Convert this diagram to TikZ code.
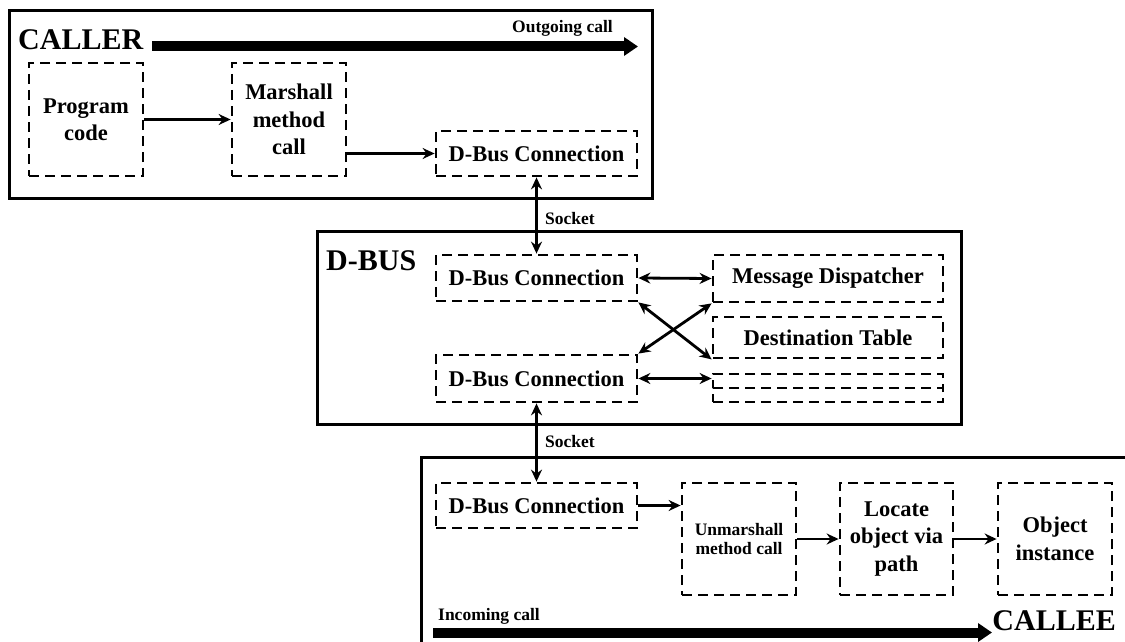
\documentclass[tikz,border=0pt]{standalone}
\usepackage{fontspec}
\setmainfont{Liberation Serif}
\usetikzlibrary{arrows.meta}
\begin{document}
\begin{tikzpicture}[x=1pt,y=-1pt,
  >={Stealth[length=12pt,width=11pt,inset=4pt]},
  box/.style={draw, line width=2.8pt, dash pattern=on 10pt off 6pt, inner sep=0pt, align=center,
    font=\fontsize{22.5}{27.5}\selectfont\bfseries},
  smallbox/.style={box, font=\fontsize{17.5}{18.5}\selectfont\bfseries},
  frame/.style={draw, line width=3pt, inner sep=0pt},
  conn/.style={line width=2.8pt},
  bigarrow/.style={line width=10pt, -{Triangle[length=14pt,width=18pt]}},
  title/.style={font=\fontsize{30}{30}\selectfont\bfseries, inner sep=0pt},
  note/.style={font=\fontsize{17.5}{18}\selectfont\bfseries, inner sep=0pt}
]
\useasboundingbox (0,0) rectangle (1125,642);

% containers
\node[frame, minimum width=642.5pt, minimum height=187pt] (callerbox) at (330.75,104.5) {};
\node[frame, minimum width=644pt, minimum height=193pt] (dbusbox) at (639,327.5) {};
\draw[line width=3pt] (1130,457) -- (421,457) -- (421,650);

% titles
\node[title, anchor=base west] (caller) at (18,50) {CALLER};
\node[title, anchor=base west] (dbus) at (326,270) {D-BUS};
\node[title, anchor=base east] (callee) at (1116,630) {CALLEE};

% caller
\node[box, minimum width=114pt, minimum height=113pt] (prog) at (86,119.5) {Program\\code};
\node[box, minimum width=114pt, minimum height=113pt] (marsh) at (289,119.5) {Marshall\\method\\call};
\node[box, minimum width=201pt, minimum height=45pt] (dbc1) at (536.5,153.5) {D-Bus Connection};

% D-BUS
\node[box, minimum width=201pt, minimum height=46pt] (dbA) at (536.5,278) {D-Bus Connection};
\node[box, minimum width=201pt, minimum height=47pt] (dbB) at (536.5,378.5) {D-Bus Connection};
\node[box, minimum width=230pt, minimum height=47pt] (disp) at (828,278.5) {Message Dispatcher};
\node[box, minimum width=230pt, minimum height=41pt] (dest) at (828,337.5) {Destination Table};
\node[box, minimum width=230pt, minimum height=14pt] (stA) at (828,381) {};
\node[box, minimum width=230pt, minimum height=14pt] (stB) at (828,395) {};

% callee
\node[box, minimum width=201pt, minimum height=45pt] (dbc2) at (536.5,505.5) {D-Bus Connection};
\node[smallbox, minimum width=114pt, minimum height=112pt] (unm) at (739,539) {Unmarshall\\method call};
\node[box, minimum width=113pt, minimum height=112pt] (loc) at (896.5,539) {Locate\\object via\\path};
\node[box, minimum width=114pt, minimum height=112pt] (obj) at (1055,539) {Object\\instance};

% big arrows
\coordinate (outS) at (152,46.5);
\coordinate (outE) at (638,46.5);
\draw[bigarrow] (outS) -- (outE);
\node[note, anchor=base west] (outlbl) at (512,33) {Outgoing call};
\coordinate (inS) at (433,632.5);
\coordinate (inE) at (992,632.5);
\draw[bigarrow] (inS) -- (inE);
\node[note, anchor=base west] (inlbl) at (438,620) {Incoming call};

% connectors
\draw[conn,->] (prog.east) -- (marsh.west);
\draw[conn,->] (marsh.east |- dbc1.west) -- (dbc1.west);
\draw[conn,<->] (dbc1.south) -- (dbA.north);
\node[note, anchor=base west] (sock1) at (545,224) {Socket};
\draw[conn,<->] (dbA.east) -- (disp.west);
\draw[conn,<->] (dbA.south east) -- (dest.south west);
\draw[conn,<->] (dbB.north east) -- (disp.south west);
\draw[conn,<->] (dbB.east) -- (dbB.east -| stA.west);
\draw[conn,<->] (dbB.south) -- (dbc2.north);
\node[note, anchor=base west] (sock2) at (545,447) {Socket};
\draw[conn,->] (dbc2.east) -- (dbc2.east -| unm.west);
\draw[conn,->] (unm.east) -- (loc.west);
\draw[conn,->] (loc.east) -- (obj.west);
\end{tikzpicture}
\end{document}
